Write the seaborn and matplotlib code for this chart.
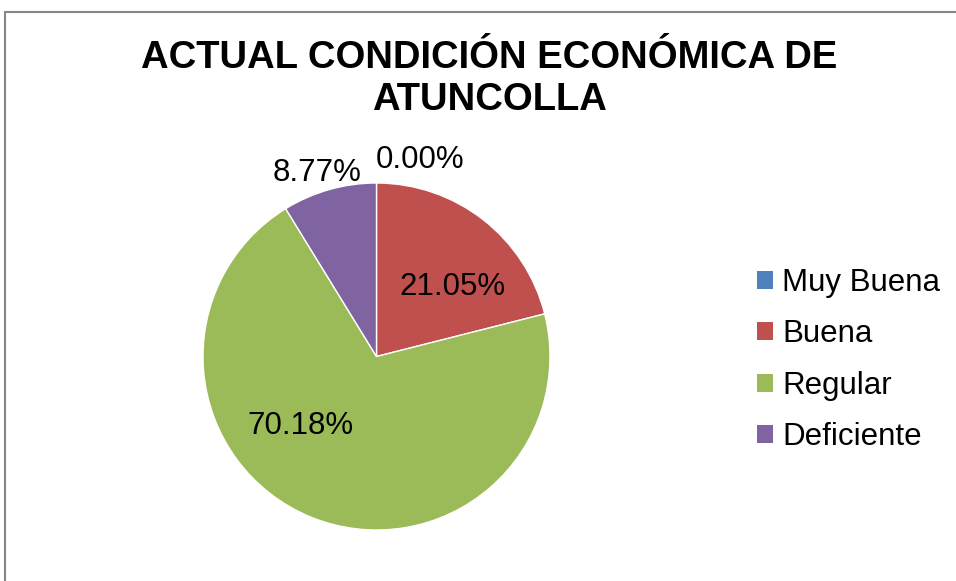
import matplotlib
matplotlib.use("Agg")
import matplotlib.pyplot as plt
from matplotlib.patches import Patch, Rectangle
import seaborn as sns

# chart data
categories = ["Muy Buena", "Buena", "Regular", "Deficiente"]
shares = [0.00, 21.05, 70.18, 8.77]
title = "ACTUAL CONDICIÓN ECONÓMICA DE\nATUNCOLLA"

# style
colors = ["#4F81BD", "#C0504D", "#9BBB59", "#8064A2"]
# where each percent label sits, in pie-radius units from the centre
label_pos = [(0.25, 1.13), (0.44, 0.40), (-0.44, -0.40), (-0.34, 1.06)]

sns.set_theme(style="white")
plt.rcParams["font.family"] = ["Liberation Sans", "DejaVu Sans"]
plt.rcParams["text.color"] = "black"

W, H = 956, 581
fig = plt.figure(figsize=(W / 100, H / 100), dpi=100)
fig.patch.set_facecolor("white")

# pie sits in a square axes: centre (376.5, 356.5) px, radius 173.5 px
cx, cy, r = 376.5, 356.5, 173.5
ax = fig.add_axes([(cx - r) / W, (H - cy - r) / H, 2 * r / W, 2 * r / H])
wedges, _ = ax.pie(
    shares,
    colors=colors,
    startangle=90,
    counterclock=False,
    radius=1,
    wedgeprops=dict(edgecolor="white", linewidth=1),
)
ax.set_xlim(-1, 1)
ax.set_ylim(-1, 1)
ax.set_aspect("equal")
ax.axis("off")

for val, (lx, ly) in zip(shares, label_pos):
    ax.text(lx, ly, f"{val:.2f}%", ha="center", va="center",
            fontsize=22.5, color="black", clip_on=False)

fig.text(489 / W, 1 - 79 / H, title, ha="center", va="center",
         fontsize=27.5, fontweight="bold", linespacing=1.18, color="black")

handles = [Patch(facecolor=c, edgecolor="none") for c in colors]
fig.legend(handles, categories, loc="center left",
           bbox_to_anchor=(757 / W, 1 - 360 / H), frameon=False,
           fontsize=22.5, borderpad=0, borderaxespad=0,
           handlelength=0.51, handleheight=0.51, handletextpad=0.29,
           labelspacing=0.68, labelcolor="black")

# chart area border (only left and top edges show in the crop)
fig.add_artist(Rectangle((5 / W, -0.2), 1.2, 1.2 - 12 / H, transform=fig.transFigure,
                         fill=False, edgecolor="#868686", linewidth=1.5))

fig.savefig("out.png", dpi=100, facecolor="white")
